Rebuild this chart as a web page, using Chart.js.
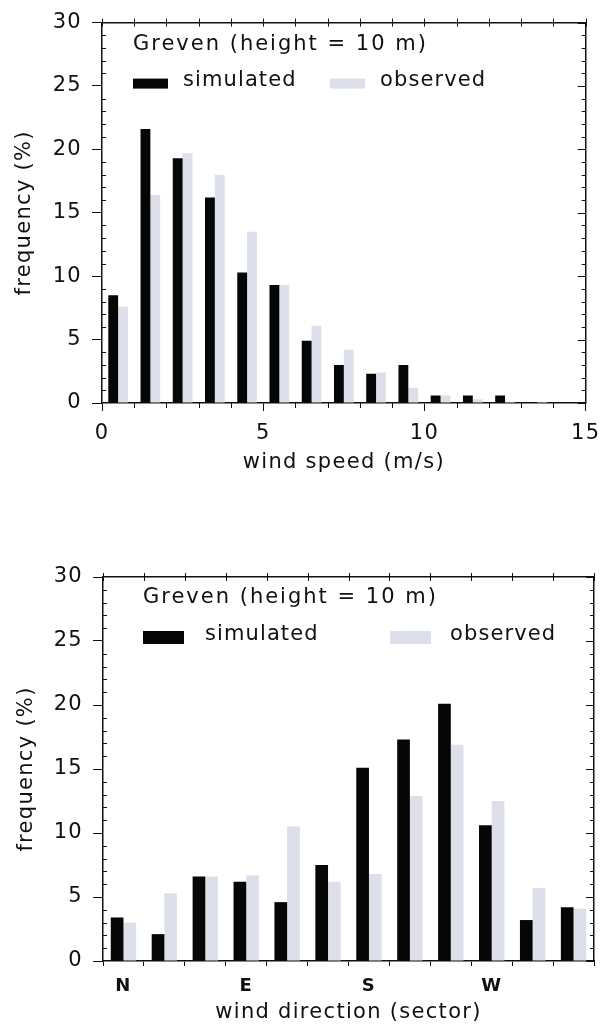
<!DOCTYPE html>
<html>
<head>
<meta charset="utf-8">
<script src="https://cdn.jsdelivr.net/npm/chart.js@4.4.1/dist/chart.umd.min.js"></script>
<style>
  body { margin: 0; background: #fff; }
  #wrap { position: relative; width: 609px; height: 1032px; }
  canvas { position: absolute; left: 0; }
</style>
</head>
<body>
<div id="wrap">
  <canvas id="speedChart" width="609" height="490" style="top:0"></canvas>
  <canvas id="dirChart" width="609" height="492" style="top:540px"></canvas>
</div>
<script>
// wind speed bins (centre of each 1 m/s class)
const speedBins = [0.5, 1.5, 2.5, 3.5, 4.5, 5.5, 6.5, 7.5, 8.5, 9.5, 10.5, 11.5, 12.5, 13.5, 14.5];
const speedSimulated = [8.5, 21.6, 19.3, 16.2, 10.3, 9.3, 4.9, 3.0, 2.3, 3.0, 0.6, 0.6, 0.6, 0, 0];
const speedObserved = [7.6, 16.4, 19.7, 18.0, 13.5, 9.3, 6.1, 4.2, 2.4, 1.2, 0.6, 0.3, 0.1, 0.1, 0];

// wind direction, 12 sectors of 30 deg starting at N
const sectors = ['N', 'NNE', 'ENE', 'E', 'ESE', 'SSE', 'S', 'SSW', 'WSW', 'W', 'WNW', 'NNW'];
const sectorTicks = ['N', '', '', 'E', '', '', 'S', '', '', 'W', '', ''];
const dirSimulated = [3.4, 2.1, 6.6, 6.2, 4.6, 7.5, 15.1, 17.3, 20.1, 10.6, 3.2, 4.2];
const dirObserved = [3.0, 5.3, 6.6, 6.7, 10.5, 6.2, 6.8, 12.9, 16.9, 12.5, 5.7, 4.1];

const stationTitle = 'Greven (height = 10 m)';
const speedTicks = [0, 5, 10, 15];
const freqTicks = [0, 5, 10, 15, 20, 25, 30];

const simColor = '#060606';
const obsColor = 'rgb(221, 223, 234)';
const ink = '#111';
const family = "'DejaVu Sans', sans-serif";

// minor ticks + in-plot legend, drawn on top of the chart
const frameTicks = {
  id: 'frameTicks',
  beforeDraw(chart) {
    chart.ctx.letterSpacing = '1.3px';
  },
  afterDraw(chart, args, opts) {
    const {ctx, chartArea: a} = chart;
    const xs = chart.scales.x, ys = chart.scales.y;
    ctx.save();
    ctx.strokeStyle = ink;
    ctx.lineWidth = 1;
    ctx.beginPath();
    for (let v = 0; v <= 30; v++) {
      const py = Math.round(ys.getPixelForValue(v)) + 0.5;
      if (v % 5 !== 0) {
        ctx.moveTo(a.left, py); ctx.lineTo(a.left + 4, py);
      }
      const len = v % 5 === 0 ? 8 : 4;
      ctx.moveTo(a.right, py); ctx.lineTo(a.right - len, py);
    }
    if (opts.kind === 'speed') {
      for (let v = 0; v <= 15; v++) {
        const px = Math.round(xs.getPixelForValue(v)) + 0.5;
        ctx.moveTo(px, a.top - 4); ctx.lineTo(px, a.top + 4);
        if (v % 5 !== 0) {
          ctx.moveTo(px, a.bottom); ctx.lineTo(px, a.bottom + 5);
        }
      }
    } else {
      for (let i = 0; i <= sectors.length; i++) {
        const px = Math.round(xs.getPixelForValue(i - 0.5)) + 0.5;
        ctx.moveTo(px, a.top - 4); ctx.lineTo(px, a.top + 4);
      }
    }
    ctx.stroke();

    // legend inside the plot
    const L = opts.legend;
    ctx.fillStyle = ink;
    ctx.textBaseline = 'middle';
    ctx.textAlign = 'left';
    ctx.font = '21px ' + family;
    ctx.letterSpacing = '2px';
    ctx.fillText(stationTitle, a.left + L.dx, a.top + L.titleDy);
    ctx.letterSpacing = '1.1px';
    chart.data.datasets.forEach((ds, i) => {
      ctx.fillStyle = ds.backgroundColor;
      ctx.fillRect(a.left + L.boxX[i], a.top + L.boxY, L.boxW, L.boxH);
      ctx.fillStyle = ink;
      ctx.fillText(ds.label, a.left + L.textX[i], a.top + L.rowDy);
    });
    ctx.restore();
  }
};

function commonY(width, titlePad) {
  return {
    y: {
      min: 0, max: 30,
      afterBuildTicks: s => { s.ticks = freqTicks.map(v => ({value: v})); },
      ticks: {color: ink, padding: 10, font: {family, size: 21}},
      grid: {drawOnChartArea: false, tickLength: 10, color: ink},
      border: {color: ink, width: 1.5},
      title: {display: true, text: 'frequency (%)', color: ink,
              font: {family, size: 21}, padding: {top: titlePad, bottom: 0}},
      afterFit: s => { s.width = width; }
    },
    y2: {
      position: 'right', min: 0, max: 30,
      ticks: {display: false},
      grid: {display: false},
      border: {display: true, color: ink, width: 1.5},
      afterFit: s => { s.width = 0; }
    }
  };
}

new Chart(document.getElementById('speedChart'), {
  type: 'bar',
  data: {
    datasets: [
      {label: 'simulated', data: speedBins.map((b, i) => ({x: b, y: speedSimulated[i]})), backgroundColor: simColor},
      {label: 'observed', data: speedBins.map((b, i) => ({x: b, y: speedObserved[i]})), backgroundColor: obsColor}
    ]
  },
  options: {
    responsive: false,
    animation: false,
    datasets: {bar: {categoryPercentage: 0.61, barPercentage: 1, borderWidth: 0}},
    layout: {padding: {top: 21, right: 15, left: 0, bottom: 0}},
    plugins: {
      legend: {display: false},
      tooltip: {enabled: false},
      frameTicks: {
        kind: 'speed',
        legend: {dx: 31, titleDy: 22, rowDy: 58, boxX: [31, 228], boxY: 56, boxW: 35, boxH: 10, textX: [81, 278]}
      }
    },
    scales: {
      x: {
        type: 'linear', position: 'bottom', min: 0, max: 15, offset: false,
        afterBuildTicks: s => { s.ticks = speedTicks.map(v => ({value: v})); },
        ticks: {color: ink, padding: 10, maxRotation: 0, font: {family, size: 21}},
        grid: {offset: false, drawOnChartArea: false, tickLength: 8, color: ink},
        border: {color: ink, width: 1.5},
        title: {display: true, text: 'wind speed (m/s)', color: ink,
                font: {family, size: 21}, padding: {top: 0, bottom: 15}},
        afterFit: s => { s.height = 87; }
      },
      x2: {
        type: 'linear', position: 'top', min: 0, max: 15,
        ticks: {display: false},
        grid: {display: false},
        border: {display: true, color: ink, width: 1.5},
        afterFit: s => { s.height = 0; }
      },
      ...commonY(102, 12)
    }
  },
  plugins: [frameTicks]
});

new Chart(document.getElementById('dirChart'), {
  type: 'bar',
  data: {
    labels: sectors,
    datasets: [
      {label: 'simulated', data: dirSimulated, backgroundColor: simColor},
      {label: 'observed', data: dirObserved, backgroundColor: obsColor}
    ]
  },
  options: {
    responsive: false,
    animation: false,
    datasets: {bar: {categoryPercentage: 0.62, barPercentage: 1, borderWidth: 0}},
    layout: {padding: {top: 37, right: 15, left: 0, bottom: 0}},
    plugins: {
      legend: {display: false},
      tooltip: {enabled: false},
      frameTicks: {
        kind: 'sector',
        legend: {dx: 40, titleDy: 21, rowDy: 58, boxX: [40, 287], boxY: 54, boxW: 41, boxH: 13, textX: [102, 347]}
      }
    },
    scales: {
      x: {
        type: 'category', position: 'bottom', offset: true,
        ticks: {color: ink, padding: 10, maxRotation: 0, autoSkip: false,
                font: {family, size: 18, weight: 'bold'},
                callback: (v, i) => sectorTicks[i]},
        grid: {offset: true, drawOnChartArea: false, tickLength: 5, color: ink},
        border: {color: ink, width: 1.5},
        title: {display: true, text: 'wind direction (sector)', color: ink,
                font: {family, size: 21}, padding: {top: 0, bottom: 7}},
        afterFit: s => { s.height = 71; }
      },
      x2: {
        type: 'category', position: 'top',
        ticks: {display: false},
        grid: {display: false},
        border: {display: true, color: ink, width: 1.5},
        afterFit: s => { s.height = 0; }
      },
      ...commonY(103, 14)
    }
  },
  plugins: [frameTicks]
});
</script>
</body>
</html>
